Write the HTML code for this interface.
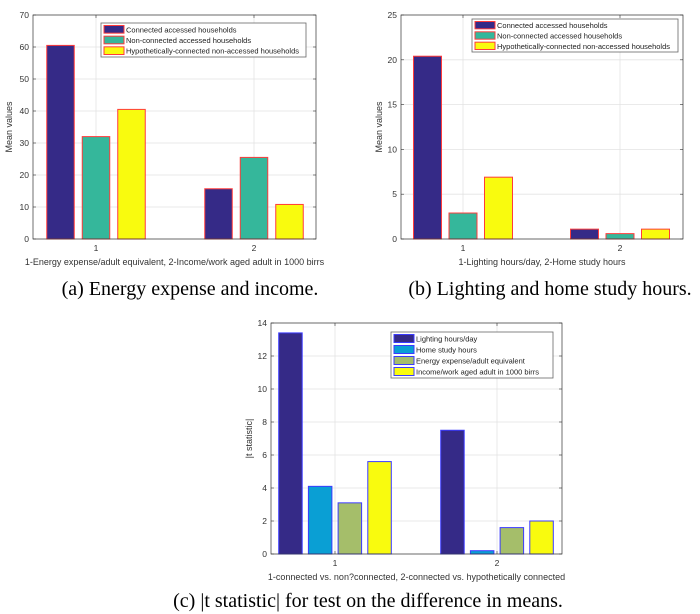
<!DOCTYPE html>
<html><head><meta charset="utf-8">
<style>
html,body{margin:0;padding:0;background:#fff;}
svg{display:block;}
</style></head>
<body>
<svg id="fig" width="700" height="614" viewBox="0 0 700 614" xmlns="http://www.w3.org/2000/svg">
<text x="190" y="295" font-family="Liberation Serif, serif" font-size="20" text-anchor="middle" fill="#000">(a) Energy expense and income.</text>
<text x="550" y="295" font-family="Liberation Serif, serif" font-size="20" text-anchor="middle" fill="#000">(b) Lighting and home study hours.</text>
<text x="368" y="607" font-family="Liberation Serif, serif" font-size="20" text-anchor="middle" fill="#000">(c) |t statistic| for test on the difference in means.</text>
</svg>
<script>
// Chart A data
const catsA = ["1", "2"];
const seriesNamesA = ["Connected accessed households", "Non-connected accessed households", "Hypothetically-connected non-accessed households"];
const valsA1 = [60.5, 15.7];
const valsA2 = [32, 25.5];
const valsA3 = [40.5, 10.8];
const ticksA = [0, 10, 20, 30, 40, 50, 60, 70];
// Chart B data
const catsB = ["1", "2"];
const seriesNamesB = ["Connected accessed households", "Non-connected accessed households", "Hypothetically-connected non-accessed households"];
const valsB1 = [20.4, 1.1];
const valsB2 = [2.9, 0.6];
const valsB3 = [6.9, 1.1];
const ticksB = [0, 5, 10, 15, 20, 25];
// Chart C data
const catsC = ["1", "2"];
const seriesNamesC = ["Lighting hours/day", "Home study hours", "Energy expense/adult equivalent", "Income/work aged adult in 1000 birrs"];
const valsC1 = [13.4, 7.5];
const valsC2 = [4.1, 0.2];
const valsC3 = [3.1, 1.6];
const valsC4 = [5.6, 2.0];
const ticksC = [0, 2, 4, 6, 8, 10, 12, 14];

const NS = "http://www.w3.org/2000/svg";
const fig = document.getElementById("fig");
function mk(tag, attrs, parent) {
  const e = document.createElementNS(NS, tag);
  for (const k in attrs) e.setAttribute(k, attrs[k]);
  (parent || fig).appendChild(e);
  return e;
}
const FONT = "Liberation Sans, sans-serif";

function chart(cfg) {
  const g = mk("g", {});
  
  
  const L = cfg.l, R = cfg.r, T = cfg.t, B = cfg.b;
  const ymax = cfg.ticks[cfg.ticks.length - 1];
  const yS = v => B - (v / ymax) * (B - T);
  const xS = i => cfg.cx[i];
  mk("rect", {x: L, y: T, width: R - L, height: B - T, fill: "#fff"}, g);
  cfg.ticks.forEach(t => {
    const y = yS(t);
    const gl = mk("line", {x1: L, x2: R, y1: y, y2: y, stroke: "#e3e3e3", "stroke-width": 0.8}, g);
    
    
    mk("line", {x1: L, x2: L + 3, y1: y, y2: y, stroke: "#333", "stroke-width": 0.6}, g);
    mk("line", {x1: R, x2: R - 3, y1: y, y2: y, stroke: "#333", "stroke-width": 0.6}, g);
    const tl = mk("text", {x: L - 4, y: y + 3, "font-family": FONT, "font-size": 8.5, "text-anchor": "end", fill: "#333"}, g);
    tl.textContent = t;
    
    
  });
  cfg.cats.forEach((c, i) => {
    const x = xS(i);
    mk("line", {x1: x, x2: x, y1: T, y2: B, stroke: "#e3e3e3", "stroke-width": 0.8}, g);
    mk("line", {x1: x, x2: x, y1: B, y2: B - 3, stroke: "#333", "stroke-width": 0.6}, g);
    mk("line", {x1: x, x2: x, y1: T, y2: T + 3, stroke: "#333", "stroke-width": 0.6}, g);
    const tl = mk("text", {x: x, y: B + 12, "font-family": FONT, "font-size": 8.5, "text-anchor": "middle", fill: "#333"}, g);
    tl.textContent = c;
    
    
  });
  const n = cfg.series.length;
  cfg.series.forEach((vals, s) => {
    vals.forEach((v, i) => {
      const x = xS(i) + (s - (n - 1) / 2) * cfg.step - cfg.bw / 2;
      const bar = mk("rect", {x: x, y: yS(v), width: cfg.bw, height: yS(0) - yS(v), fill: cfg.colors[s], stroke: cfg.edge, "stroke-width": 1}, g);
      
      
    });
  });
  mk("rect", {x: L, y: T, width: R - L, height: B - T, fill: "none", stroke: "#333", "stroke-width": 0.7}, g);
  const xl = mk("text", {x: (L + R) / 2, y: cfg.xly, "font-family": FONT, "font-size": 9, "text-anchor": "middle", fill: "#333"}, g);
  xl.textContent = cfg.xlabel;
  
  
  const yx = cfg.ylx, yy = (T + B) / 2;
  const yl = mk("text", {x: yx, y: yy, "font-family": FONT, "font-size": 9, "text-anchor": "middle", fill: "#333", transform: "rotate(-90 " + yx + " " + yy + ")"}, g);
  yl.textContent = cfg.ylabel;
  
  
  const lg = mk("g", {}, g);
  
  
  const lx = cfg.leg[0], ly = cfg.leg[1], lw = cfg.leg[2], lh = cfg.leg[3];
  mk("rect", {x: lx, y: ly, width: lw, height: lh, fill: "#fff", stroke: "#666", "stroke-width": 0.8}, lg);
  const rowH = (lh - 2) / cfg.names.length;
  cfg.names.forEach((nm, s) => {
    const ry = ly + 1 + rowH * s;
    const ent = mk("g", {}, lg);
    
    
    mk("rect", {x: lx + 3, y: ry + 1.5, width: 20, height: rowH - 3, fill: cfg.colors[s], stroke: cfg.edge, "stroke-width": 1}, ent);
    const t = mk("text", {x: lx + 25, y: ry + rowH / 2 + 3, "font-family": FONT, "font-size": 7.5, fill: "#222"}, ent);
    t.textContent = nm;
  });
}

chart({name: "chart-a", l: 33, r: 316, t: 15, b: 239, ticks: ticksA, cats: catsA, cx: [96, 254],
  series: [valsA1, valsA2, valsA3], colors: ["#352a87", "#35b79b", "#f9fb0e"], edge: "#ff3b3b",
  step: 35.5, bw: 27.5, xlabel: "1-Energy expense/adult equivalent, 2-Income/work aged adult in 1000 birrs", xly: 265,
  ylabel: "Mean values", ylx: 12, names: seriesNamesA, leg: [101, 23, 205, 34]});
chart({name: "chart-b", l: 401, r: 683, t: 15, b: 239, ticks: ticksB, cats: catsB, cx: [463, 620],
  series: [valsB1, valsB2, valsB3], colors: ["#352a87", "#35b79b", "#f9fb0e"], edge: "#ff3b3b",
  step: 35.5, bw: 28, xlabel: "1-Lighting hours/day, 2-Home study hours", xly: 265,
  ylabel: "Mean values", ylx: 382, names: seriesNamesB, leg: [472, 19, 206, 33]});
chart({name: "chart-c", l: 271, r: 562, t: 323, b: 554, ticks: ticksC, cats: catsC, cx: [335, 497],
  series: [valsC1, valsC2, valsC3, valsC4], colors: ["#352a87", "#0a9fd4", "#a5be6a", "#f9fb0e"], edge: "#3b3bff",
  step: 29.7, bw: 23.5, xlabel: "1-connected vs. non?connected, 2-connected vs. hypothetically connected", xly: 580,
  ylabel: "|t statistic|", ylx: 252, names: seriesNamesC, leg: [391, 332, 162, 46]});
</script>
</body></html>
